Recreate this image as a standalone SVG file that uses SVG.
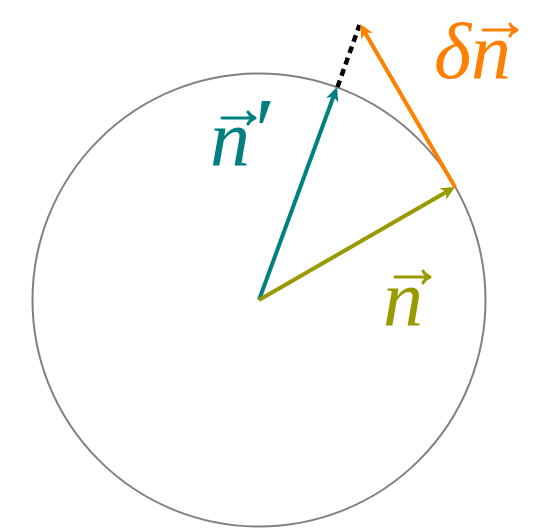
<svg xmlns="http://www.w3.org/2000/svg" width="555" height="531" viewBox="0 0 555 531">
<style>
.lbl{font-family:"Liberation Serif","DejaVu Serif",serif;font-style:italic;font-size:80px}
.acc{fill:none;stroke-width:3;stroke-linecap:round;stroke-linejoin:round}
.vec{stroke-width:4}
</style>
<defs>
<marker id="ahT" markerUnits="userSpaceOnUse" orient="auto" markerWidth="30" markerHeight="30" refX="0" refY="0" viewBox="-15 -15 30 30" overflow="visible"><path d="M4,0 L-10,-6.5 L-6,0 L-10,6.5 Z" fill="#008080"/></marker>
<marker id="ahO" markerUnits="userSpaceOnUse" orient="auto" markerWidth="30" markerHeight="30" refX="0" refY="0" viewBox="-15 -15 30 30" overflow="visible"><path d="M4,0 L-10,-6.5 L-6,0 L-10,6.5 Z" fill="#999900"/></marker>
<marker id="ahR" markerUnits="userSpaceOnUse" orient="auto" markerWidth="30" markerHeight="30" refX="0" refY="0" viewBox="-15 -15 30 30" overflow="visible"><path d="M4,0 L-10,-6.5 L-6,0 L-10,6.5 Z" fill="#ff8000"/></marker>
</defs>
<rect width="555" height="531" fill="#fff"/>
<g id="circle">
<circle cx="259" cy="300" r="226.5" fill="none" stroke="#808080" stroke-width="2"/>
</g>
<g id="connectors">
<line x1="337.5" y1="87" x2="359.5" y2="25" stroke="#000" stroke-width="4.5" stroke-dasharray="7,5"/>
<line class="vec" x1="259" y1="300" x2="335.6" y2="90.8" stroke="#008080" marker-end="url(#ahT)"/>
<line class="vec" x1="259" y1="300" x2="451.5" y2="189" stroke="#999900" marker-end="url(#ahO)"/>
<line class="vec" x1="455" y1="187" x2="362" y2="27.5" stroke="#ff8000" marker-end="url(#ahR)"/>
</g>
<g id="label-n" fill="#999900">
<text class="lbl" x="383" y="325">n</text>
<path class="acc" stroke="#999900" d="M395,277 H429 M423,271 Q425,275 430,277 Q425,279 423,283"/>
</g>
<g id="label-nprime" fill="#008080">
<text class="lbl" x="210" y="165">n</text>
<text class="lbl" x="249" y="162" style="font-size:94px">′</text>
<path class="acc" stroke="#008080" d="M222,118 H254 M248,112 Q250,116 255,118 Q250,120 248,124"/>
</g>
<g id="label-dn" fill="#ff8000">
<text class="lbl" x="434" y="78">δ</text>
<text class="lbl" x="471" y="78">n</text>
<path class="acc" stroke="#ff8000" d="M483,30 H516 M510,24 Q512,28 517,30 Q512,32 510,36"/>
</g>
</svg>
